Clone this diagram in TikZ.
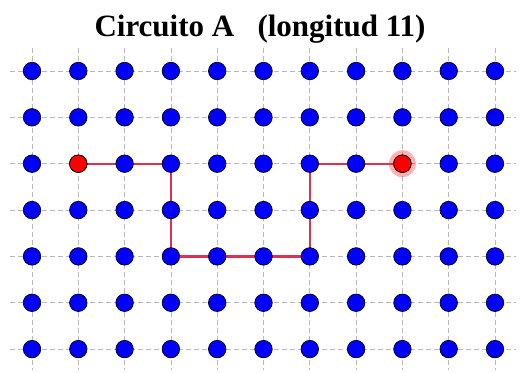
\documentclass[tikz,border=0pt]{standalone}
\usepackage{fontspec}
\setmainfont{Liberation Serif}
\definecolor{pathred}{RGB}{220,50,80}
\definecolor{gridgray}{RGB}{185,185,185}
\begin{document}
\begin{tikzpicture}[x=1pt,y=-1pt,
  gridline/.style={gridgray,line width=0.7pt,dash pattern=on 4.5pt off 3.5pt},
  dot/.style={circle,draw=black,line width=0.7pt,fill=blue,minimum size=17.5pt,inner sep=0pt},
  enddot/.style={circle,draw=black,line width=0.7pt,fill=red,minimum size=17.5pt,inner sep=0pt},
  halo/.style={circle,fill=red,fill opacity=0.3,minimum size=27pt,inner sep=0pt},
  route/.style={pathred,line width=2.4pt}]
\useasboundingbox (0,0) rectangle (521,372);
\node[font=\bfseries\fontsize{31}{36}\selectfont] (title) at (260,29) {Circuito A\ \ \ (longitud 11)};
% grid lines
\foreach \r in {0,...,6} {
  \draw[gridline] (10,{71+46.35*\r}) -- (516,{71+46.35*\r});
}
\foreach \c in {0,...,10} {
  \draw[gridline] ({32+46.3*\c},48) -- ({32+46.3*\c},370);
}
% coordinates
\foreach \c in {0,...,10} {
  \foreach \r in {0,...,6} {
    \coordinate (p-\c-\r) at ({32+46.3*\c},{71+46.35*\r});
  }
}
\node[halo] (h) at (p-8-2) {};
% route
\draw[route] (p-1-2) -- (p-2-2) -- (p-3-2) -- (p-3-3) -- (p-3-4) -- (p-4-4) -- (p-5-4) -- (p-6-4) -- (p-6-3) -- (p-6-2) -- (p-7-2) -- (p-8-2);
% dots
\foreach \c in {0,...,10} {
  \foreach \r in {0,...,6} {
    \node[dot] (d-\c-\r) at (p-\c-\r) {};
  }
}
\node[enddot] (s) at (p-1-2) {};
\node[enddot] (e) at (p-8-2) {};
\end{tikzpicture}
\end{document}
